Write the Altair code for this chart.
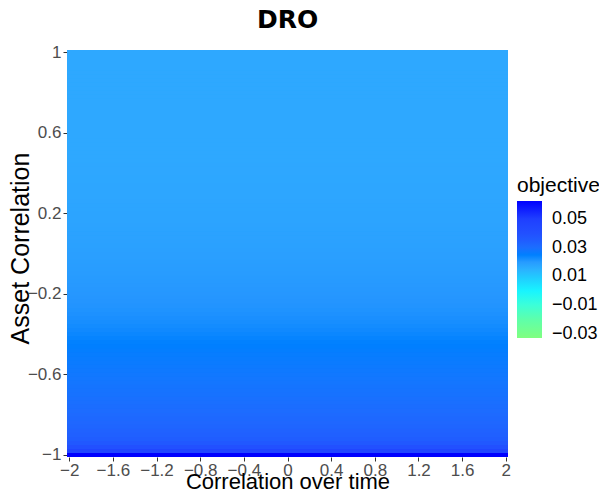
import altair as alt
import pandas as pd

# Grid of asset correlations (rows of the heat map), bottom (-1) to top (1)
asset_corr = [round(-1 + 0.02 * i, 2) for i in range(101)]

# Objective value read for each row (constant across correlation over time)
objective = [
    0.0625, 0.046, 0.040, 0.037, 0.035, 0.034, 0.0333, 0.0326, 0.0320, 0.0315,
    0.0310, 0.0306, 0.0302, 0.0298, 0.0294, 0.0290, 0.0287, 0.0284, 0.0281, 0.0278,
    0.0275, 0.0272, 0.0269, 0.0266, 0.0263, 0.0260, 0.0256, 0.0252, 0.0248, 0.0243,
    0.0238, 0.0233, 0.0229, 0.0225, 0.0222, 0.0219, 0.0216, 0.0213, 0.0211, 0.0209,
    0.0207, 0.0205, 0.0203, 0.0201, 0.0199, 0.0197, 0.0195, 0.0194, 0.0192, 0.0190,
    0.0189, 0.0188, 0.0186, 0.0185, 0.0184, 0.0183, 0.0182, 0.0181, 0.0180, 0.0179,
    0.0178, 0.0177, 0.0177, 0.0176, 0.0175, 0.0175, 0.0174, 0.0174, 0.0173, 0.0173,
    0.0172, 0.0172, 0.0172, 0.0171, 0.0171, 0.0171, 0.0170,
    0.0170, 0.0170, 0.0170, 0.0170, 0.0170, 0.0170, 0.0170, 0.0170, 0.0170, 0.0170,
    0.0170, 0.0170, 0.0170, 0.0170, 0.0170, 0.0170, 0.0170, 0.0170, 0.0170, 0.0170,
    0.0170, 0.0170, 0.0170, 0.0170,
]

# Correlation-over-time extent covered by the tiles
time_lo = -2.02
time_hi = 2.02

x_ticks = [-2, -1.6, -1.2, -0.8, -0.4, 0, 0.4, 0.8, 1.2, 1.6, 2]
y_ticks = [-1, -0.6, -0.2, 0.2, 0.6, 1]
legend_ticks = [-0.03, -0.01, 0.01, 0.03, 0.05]

color_stops = [-0.0328, -0.02, -0.01, 0.0, 0.01, 0.017, 0.021, 0.025, 0.028,
               0.031, 0.034, 0.04, 0.05, 0.0625]
color_range = ["#80FF80", "#5EFFAA", "#3CFFD8", "#18F4FF", "#22C8FF", "#2EA8FF",
               "#2596FF", "#0080FF", "#1476FF", "#1E6AFF", "#2060FF", "#2250FF",
               "#1F3FFF", "#0000FF"]

df = pd.DataFrame({"y": asset_corr, "obj": objective})
df["x_lo"] = time_lo
df["x_hi"] = time_hi

FONT = "Liberation Sans, Arial, sans-serif"

x_enc = alt.X(
    "x_lo:Q",
    scale=alt.Scale(domain=[-2.02, 2.02], nice=False, zero=False),
    axis=alt.Axis(
        values=x_ticks, format="~g", title="Correlation over time",
        grid=False, domain=False, tickSize=4, tickColor="#333333",
        labelFont=FONT, labelFontSize=17, labelColor="#4D4D4D",
        labelPadding=1, labelFlush=False, labelOverlap=False,
        titleFont=FONT, titleFontSize=22, titleFontWeight="normal",
        titleColor="black", titleBaseline="alphabetic", titleY=31,
    ),
)
y_scale = alt.Scale(domain=[-1.01, 1.01], nice=False, zero=False)
y_axis = alt.Axis(
    values=y_ticks, format="~g", title="Asset Correlation",
    grid=False, domain=False, tickSize=4, tickColor="#333333",
    labelFont=FONT, labelFontSize=17, labelColor="#4D4D4D",
    labelPadding=2, labelFlush=False, labelOverlap=False,
    titleFont=FONT, titleFontSize=25, titleFontWeight="normal",
    titleColor="black", titleBaseline="alphabetic",
    titleX=-39, titleY=198,
)
color_enc = alt.Color(
    "obj:Q",
    scale=alt.Scale(domain=color_stops, range=color_range,
                    interpolate="rgb", clamp=True),
    legend=alt.Legend(
        type="gradient",
        orient="none", legendX=450, legendY=125, direction="vertical",
        title="objective", titleFont=FONT, titleFontSize=21,
        titleFontWeight="normal", titleColor="black", titlePadding=5,
        gradientLength=137, gradientThickness=25, gradientStrokeWidth=0,
        values=legend_ticks, format=".2f",
        labelFont=FONT, labelFontSize=18, labelColor="black",
        labelOffset=10, labelOverlap=False,
    ),
)

base = alt.Chart(df).transform_calculate(
    y_lo="datum.y - 0.01", y_hi="datum.y + 0.01",
    y_lo2="datum.y - 0.02", y_hi2="datum.y + 0.02",
)

# under-layer of slightly taller tiles hides anti-aliasing seams
under = base.mark_rect(clip=True).encode(
    x=x_enc, x2="x_hi:Q",
    y=alt.Y("y_lo2:Q", scale=y_scale, axis=y_axis), y2="y_hi2:Q",
    color=color_enc,
)
tiles = base.mark_rect(clip=True).encode(
    x=x_enc, x2="x_hi:Q",
    y=alt.Y("y_lo:Q", scale=y_scale, axis=y_axis), y2="y_hi:Q",
    color=color_enc,
)

chart = (
    alt.layer(under, tiles)
    .properties(
        width=441,
        height=407,
        title=alt.TitleParams("DRO", font="DejaVu Sans", fontWeight="bold",
                              fontSize=25, anchor="middle",
                              offset=10, color="black"),
        autosize=alt.AutoSizeParams(type="none"),
        padding={"left": 59, "top": 42, "right": 91, "bottom": 33},
        background="white",
    )
    .configure_view(stroke=None)
)

chart.save("out.html", embed_options={"renderer": "svg", "actions": False})
